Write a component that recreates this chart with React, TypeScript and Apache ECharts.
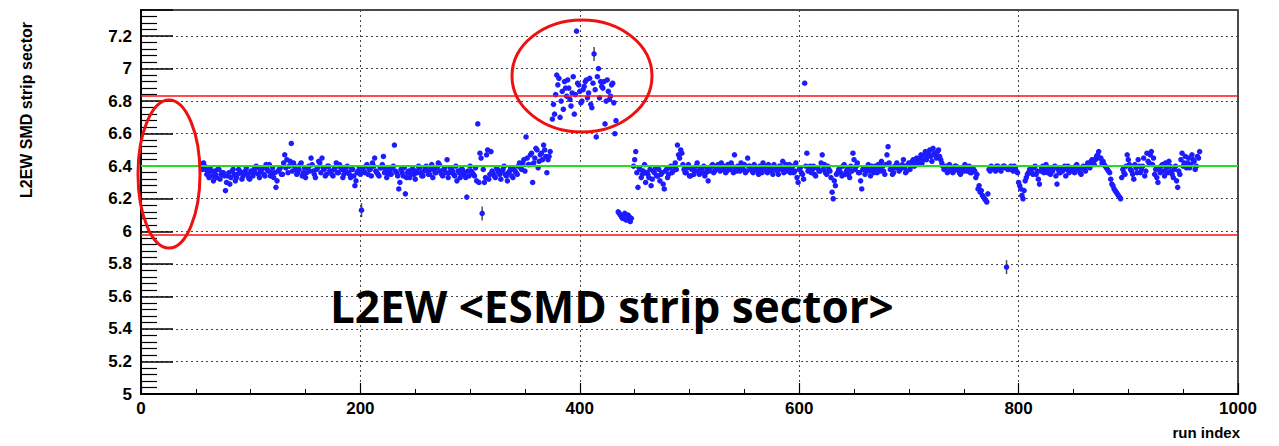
import React, { useEffect, useRef } from "react";
import * as echarts from "echarts";

// run index step between stored points of one list
const RUN_STEP = 2;

// odd runs 55..373
const seg1Start = 55;
const seg1Values = [
  6.41, 6.42, 6.38, 6.36, 6.39, 6.34, 6.37, 6.33, 6.38, 6.35,
  6.36, 6.25, 6.34, 6.29, 6.37, 6.35, 6.33, 6.38, 6.36, 6.34,
  6.37, 6.35, 6.32, 6.36, 6.38, 6.40, 6.35, 6.37, 6.39, 6.34,
  6.38, 6.41, 6.36, 6.33, 6.27, 6.37, 6.39, 6.35, 6.47, 6.44,
  6.40, 6.54, 6.42, 6.38, 6.36, 6.41, 6.34, 6.39, 6.36, 6.40,
  6.45, 6.37, 6.33, 6.39, 6.42, 6.45, 6.38, 6.35, 6.40, 6.37,
  6.34, 6.39, 6.36, 6.41, 6.38, 6.35, 6.39, 6.36, 6.33, 6.38,
  6.28, 6.36, 6.39, 6.13, 6.37, 6.40, 6.35, 6.38, 6.42, 6.45,
  6.36, 6.34, 6.39, 6.46, 6.38, 6.35, 6.37, 6.39, 6.53, 6.36,
  6.26, 6.38, 6.34, 6.23, 6.36, 6.33, 6.38, 6.35, 6.37, 6.40,
  6.36, 6.34, 6.39, 6.37, 6.35, 6.41, 6.38, 6.36, 6.42, 6.37,
  6.34, 6.39, 6.44, 6.36, 6.38, 6.35, 6.40, 6.37, 6.33, 6.38,
  6.36, 6.21, 6.34, 6.37, 6.35, 6.39, 6.66, 6.48, 6.11, 6.30,
  6.47, 6.32, 6.49, 6.36, 6.33, 6.38, 6.35, 6.37, 6.40, 6.34,
  6.36, 6.39, 6.33, 6.37, 6.35, 6.42, 6.38, 6.44, 6.58, 6.41,
  6.47, 6.30, 6.45, 6.50, 6.43, 6.48, 6.53, 6.46, 6.44, 6.49,
];
// even runs 56..372
const seg1bStart = 56;
const seg1bValues = [
  6.38, 6.40, 6.35, 6.33, 6.37, 6.31, 6.35, 6.38, 6.32, 6.36,
  6.34, 6.30, 6.36, 6.33, 6.38, 6.31, 6.35, 6.37, 6.32, 6.36,
  6.39, 6.33, 6.37, 6.34, 6.36, 6.39, 6.33, 6.38, 6.35, 6.41,
  6.37, 6.34, 6.39, 6.36, 6.31, 6.38, 6.35, 6.42, 6.39, 6.36,
  6.43, 6.37, 6.40, 6.35, 6.38, 6.42, 6.36, 6.33, 6.39, 6.37,
  6.41, 6.35, 6.38, 6.43, 6.36, 6.39, 6.34, 6.40, 6.37, 6.35,
  6.38, 6.42, 6.36, 6.39, 6.33, 6.37, 6.40, 6.35, 6.38, 6.34,
  6.31, 6.37, 6.35, 6.39, 6.36, 6.41, 6.38, 6.34, 6.40, 6.37,
  6.35, 6.39, 6.41, 6.36, 6.33, 6.38, 6.35, 6.40, 6.37, 6.34,
  6.30, 6.36, 6.39, 6.33, 6.37, 6.35, 6.38, 6.32, 6.36, 6.39,
  6.34, 6.37, 6.40, 6.35, 6.38, 6.33, 6.36, 6.39, 6.41, 6.35,
  6.38, 6.36, 6.33, 6.39, 6.37, 6.34, 6.31, 6.36, 6.38, 6.35,
  6.33, 6.37, 6.40, 6.36, 6.34, 6.31, 6.30, 6.45, 6.38, 6.33,
  6.50, 6.35, 6.37, 6.34, 6.39, 6.36, 6.32, 6.38, 6.35, 6.31,
  6.37, 6.34, 6.38, 6.36, 6.40, 6.39, 6.42, 6.37, 6.45, 6.41,
  6.48, 6.42, 6.51, 6.39, 6.47, 6.44, 6.50, 6.36, 6.46,
];

// runs 375..433 and 376..432 (the cluster above the upper limit)
const clusterStart = 375;
const clusterValues = [
  6.69, 6.72, 6.96, 6.94, 6.80, 6.75, 6.88, 6.93, 6.81, 6.85,
  6.72, 7.23, 6.90, 6.79, 6.87, 6.92, 6.82, 6.94, 6.76, 7.09,
  6.58, 7.0, 6.92, 6.88, 6.66, 6.93, 6.81, 6.90, 6.79, 6.68,
];
const clusterBStart = 376;
const clusterBValues = [
  6.78, 6.84, 6.90, 6.70, 6.86, 6.92, 6.83, 6.88, 6.77, 6.95,
  6.84, 6.91, 6.86, 6.80, 6.89, 6.93, 6.85, 6.78, 6.91, 6.87,
  6.95, 6.82, 6.89, 6.92, 6.80, 6.86, 6.83, 6.91, 6.60,
];

// runs 435..447 and 436..446
const dipStart = 435;
const dipValues = [6.12, 6.10, 6.08, 6.11, 6.07, 6.09, 6.08];
const dipBStart = 436;
const dipBValues = [6.11, 6.09, 6.10, 6.07, 6.10, 6.06];

// odd runs 449..965
const seg2Start = 449;
const seg2Values = [
  6.40, 6.49, 6.27, 6.38, 6.35, 6.41, 6.36, 6.33, 6.28, 6.37,
  6.39, 6.34, 6.31, 6.36, 6.26, 6.38, 6.35, 6.40, 6.37, 6.42,
  6.53, 6.45, 6.48, 6.38, 6.36, 6.41, 6.34, 6.39, 6.37, 6.42,
  6.35, 6.38, 6.40, 6.36, 6.31, 6.39, 6.41, 6.37, 6.40, 6.38,
  6.42, 6.39, 6.36, 6.41, 6.38, 6.40, 6.47, 6.37, 6.39, 6.42,
  6.38, 6.36, 6.45, 6.40, 6.37, 6.41, 6.39, 6.35, 6.38, 6.42,
  6.40, 6.36, 6.39, 6.37, 6.41, 6.38, 6.35, 6.40, 6.43, 6.39,
  6.37, 6.41, 6.38, 6.36, 6.42, 6.30, 6.39, 6.35, 6.91, 6.48,
  6.38, 6.36, 6.40, 6.34, 6.39, 6.37, 6.47, 6.41, 6.35, 6.38,
  6.33, 6.20, 6.28, 6.36, 6.39, 6.34, 6.41, 6.37, 6.35, 6.40,
  6.48, 6.38, 6.42, 6.36, 6.26, 6.39, 6.37, 6.41, 6.34, 6.38,
  6.40, 6.36, 6.39, 6.43, 6.37, 6.41, 6.52, 6.38, 6.35, 6.40,
  6.42, 6.37, 6.39, 6.44, 6.36, 6.41, 6.38, 6.43, 6.40, 6.45,
  6.42, 6.47, 6.44, 6.49, 6.46, 6.50, 6.43, 6.48, 6.45, 6.50,
  6.44, 6.40, 6.38, 6.36, 6.41, 6.39, 6.37, 6.40, 6.38, 6.35,
  6.39, 6.41, 6.37, 6.40, 6.36, 6.38, 6.33, 6.26, 6.24, 6.22,
  6.20, 6.18, 6.38, 6.40, 6.39, 6.37, 6.40, 6.38, 6.39, 6.40,
  5.78, 6.38, 6.40, 6.37, 6.39, 6.36, 6.28, 6.22, 6.25, 6.33,
  6.36, 6.38, 6.35, 6.40, 6.37, 6.29, 6.39, 6.36, 6.41, 6.38,
  6.35, 6.37, 6.40, 6.29, 6.36, 6.39, 6.38, 6.34, 6.40, 6.37,
  6.39, 6.36, 6.41, 6.38, 6.35, 6.40, 6.37, 6.42, 6.39, 6.44,
  6.41, 6.46, 6.49, 6.45, 6.43, 6.40, 6.38, 6.36, 6.29, 6.26,
  6.24, 6.22, 6.20, 6.38, 6.35, 6.47, 6.41, 6.37, 6.32, 6.39,
  6.44, 6.36, 6.40, 6.34, 6.48, 6.42, 6.49, 6.45, 6.38, 6.30,
  6.36, 6.41, 6.34, 6.39, 6.43, 6.37, 6.33, 6.40, 6.27, 6.35,
  6.48, 6.42, 6.39, 6.45, 6.41, 6.44, 6.38, 6.46, 6.49,
];
// even runs 450..964
const seg2bStart = 450;
const seg2bValues = [
  6.44, 6.36, 6.39, 6.33, 6.37, 6.30, 6.35, 6.38, 6.32, 6.36,
  6.34, 6.38, 6.35, 6.29, 6.37, 6.33, 6.39, 6.36, 6.40, 6.38,
  6.47, 6.50, 6.41, 6.36, 6.39, 6.34, 6.38, 6.35, 6.40, 6.37,
  6.39, 6.36, 6.34, 6.38, 6.37, 6.40, 6.36, 6.39, 6.41, 6.37,
  6.38, 6.40, 6.37, 6.39, 6.42, 6.36, 6.38, 6.40, 6.37, 6.39,
  6.41, 6.37, 6.40, 6.38, 6.36, 6.39, 6.37, 6.40, 6.36, 6.39,
  6.37, 6.41, 6.38, 6.35, 6.39, 6.37, 6.40, 6.38, 6.36, 6.41,
  6.39, 6.36, 6.40, 6.37, 6.33, 6.38, 6.36, 6.32, 6.40, 6.37,
  6.40, 6.38, 6.35, 6.39, 6.37, 6.42, 6.38, 6.36, 6.40, 6.37,
  6.24, 6.31, 6.35, 6.38, 6.36, 6.40, 6.35, 6.38, 6.33, 6.37,
  6.44, 6.40, 6.36, 6.31, 6.38, 6.35, 6.39, 6.37, 6.40, 6.36,
  6.38, 6.41, 6.37, 6.40, 6.35, 6.47, 6.42, 6.38, 6.36, 6.39,
  6.40, 6.38, 6.41, 6.39, 6.37, 6.42, 6.40, 6.44, 6.41, 6.43,
  6.45, 6.42, 6.47, 6.44, 6.48, 6.46, 6.51, 6.47, 6.49, 6.46,
  6.42, 6.38, 6.40, 6.37, 6.39, 6.36, 6.40, 6.38, 6.36, 6.39,
  6.37, 6.40, 6.38, 6.36, 6.39, 6.37, 6.35, 6.28, 6.25, 6.21,
  6.19, 6.23, 6.37, 6.39, 6.38, 6.40, 6.38, 6.37, 6.40, 6.39,
  6.38, 6.39, 6.38, 6.40, 6.37, 6.30, 6.26, 6.20, 6.31, 6.35,
  6.38, 6.36, 6.39, 6.35, 6.32, 6.37, 6.40, 6.38, 6.36, 6.39,
  6.37, 6.39, 6.34, 6.38, 6.36, 6.37, 6.40, 6.38, 6.36, 6.39,
  6.37, 6.40, 6.38, 6.36, 6.39, 6.38, 6.40, 6.41, 6.43, 6.42,
  6.44, 6.47, 6.45, 6.42, 6.41, 6.39, 6.37, 6.32, 6.28, 6.25,
  6.23, 6.21, 6.33, 6.36, 6.40, 6.44, 6.38, 6.35, 6.41, 6.36,
  6.40, 6.38, 6.45, 6.37, 6.43, 6.47, 6.41, 6.35, 6.33, 6.38,
  6.40, 6.37, 6.42, 6.36, 6.40, 6.35, 6.38, 6.31, 6.37, 6.44,
  6.40, 6.46, 6.42, 6.39, 6.47, 6.43, 6.40, 6.45,
];

// points that show a visible vertical error bar
const errorBarRuns = [201, 311, 413, 789];
const errorBarValues = [6.13, 6.11, 7.09, 5.78];

// reference lines
const upperLimit = 6.83;
const lowerLimit = 5.98;
const meanLine = 6.4;

// axes
const xMin = 0;
const xMax = 1000;
const xInterval = 200;
const yMin = 5;
const yMax = 7.36;
const yInterval = 0.2;

const titleText = "L2EW <ESMD strip sector>";
const yAxisName = "L2EW SMD strip sector";
const xAxisName = "run index";

function toPoints(start: number, values: number[]): number[][] {
  return values.map((v, i) => [start + i * RUN_STEP, v]);
}

export default function App() {
  const ref = useRef<HTMLDivElement>(null);

  useEffect(() => {
    if (!ref.current) return;
    const chart = echarts.init(ref.current, undefined, { renderer: "svg" });

    const points = [
      ...toPoints(seg1Start, seg1Values),
      ...toPoints(seg1bStart, seg1bValues),
      ...toPoints(clusterStart, clusterValues),
      ...toPoints(clusterBStart, clusterBValues),
      ...toPoints(dipStart, dipValues),
      ...toPoints(dipBStart, dipBValues),
      ...toPoints(seg2Start, seg2Values),
      ...toPoints(seg2bStart, seg2bValues),
    ];
    const errPoints = errorBarRuns.map((r, i) => [r, errorBarValues[i]]);

    chart.setOption({
      animation: false,
      backgroundColor: "#ffffff",
      grid: {
        left: 141,
        right: 41,
        top: 10,
        bottom: 52,
        show: true,
        borderColor: "#111",
        borderWidth: 1.5,
        backgroundColor: "transparent",
      },
      xAxis: {
        type: "value",
        min: xMin,
        max: xMax,
        interval: xInterval,
        axisLine: { show: true, onZero: false, lineStyle: { color: "#000", width: 2 } },
        axisTick: { show: true, inside: true, length: 11, lineStyle: { color: "#000", width: 1.2 } },
        minorTick: { show: true, splitNumber: 4, length: 5, lineStyle: { color: "#000", width: 1 } },
        splitLine: { show: true, lineStyle: { color: "#444", type: [2, 3], width: 1 } },
        axisLabel: {
          color: "#000",
          fontFamily: "Liberation Sans",
          fontWeight: "bold",
          fontSize: 17,
          margin: 6,
          formatter: (v: number) => String(v),
        },
      },
      yAxis: {
        type: "value",
        min: yMin,
        max: yMax,
        interval: yInterval,
        axisLine: { show: true, onZero: false, lineStyle: { color: "#000", width: 2 } },
        axisTick: { show: true, inside: true, length: 32, lineStyle: { color: "#000", width: 1.5 } },
        minorTick: { show: true, splitNumber: 5, length: 16, lineStyle: { color: "#000", width: 1.2 } },
        splitLine: { show: true, lineStyle: { color: "#444", type: [2, 3], width: 1 } },
        axisLabel: {
          color: "#000",
          fontFamily: "Liberation Sans",
          fontWeight: "bold",
          fontSize: 17,
          margin: 9,
          formatter: (v: number) => {
            const k = v / yInterval;
            return Math.abs(k - Math.round(k)) < 1e-6 ? String(+v.toFixed(1)) : "";
          },
        },
      },
      series: [
        {
          type: "scatter",
          data: errPoints,
          symbol: "rect",
          symbolSize: [1.5, 14],
          itemStyle: { color: "#222" },
          z: 2,
          silent: true,
        },
        {
          type: "scatter",
          data: points,
          symbol: "circle",
          symbolSize: 5.5,
          itemStyle: { color: "#1c1cff", opacity: 1 },
          z: 3,
          silent: true,
          markLine: {
            silent: true,
            symbol: "none",
            label: { show: false },
            data: [
              { yAxis: upperLimit, lineStyle: { color: "#ff1010", width: 1.5, type: "solid" } },
              { yAxis: lowerLimit, lineStyle: { color: "#ff1010", width: 1.5, type: "solid" } },
              { yAxis: meanLine, lineStyle: { color: "#20dd20", width: 2, type: "solid" } },
            ],
          },
        },
      ],
      graphic: [
        {
          type: "ellipse",
          shape: { cx: 169, cy: 174, rx: 31, ry: 74 },
          style: { fill: "none", stroke: "#ee1111", lineWidth: 3 },
          z: 100,
        },
        {
          type: "ellipse",
          shape: { cx: 582, cy: 76, rx: 70, ry: 56 },
          style: { fill: "none", stroke: "#ee1111", lineWidth: 3 },
          z: 100,
        },
        {
          type: "text",
          x: 330,
          y: 306,
          style: {
            text: titleText,
            fill: "#000",
            font: "bold 44px 'Open Sans'",
            align: "left",
            verticalAlign: "middle",
          },
          z: 100,
        },
        {
          type: "text",
          x: 26,
          y: 110,
          rotation: Math.PI / 2,
          style: {
            text: yAxisName,
            fill: "#000",
            font: "bold 16px 'Liberation Sans'",
            align: "center",
            verticalAlign: "middle",
          },
          z: 100,
        },
        {
          type: "text",
          x: 1240,
          y: 432,
          style: {
            text: xAxisName,
            fill: "#000",
            font: "bold 15px 'Liberation Sans'",
            align: "right",
            verticalAlign: "middle",
          },
          z: 100,
        },
      ],
    });

    return () => chart.dispose();
  }, []);

  return (
    <div
      ref={ref}
      style={{ position: "fixed", left: 0, top: 0, width: 1279, height: 446 }}
    />
  );
}
